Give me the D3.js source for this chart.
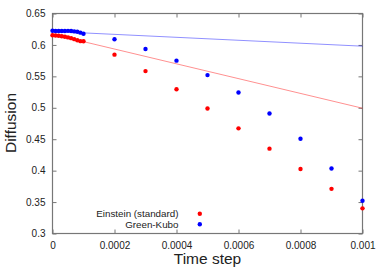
<!DOCTYPE html>
<html><head><meta charset="utf-8">
<script src="https://cdn.jsdelivr.net/npm/d3@7"></script>
<style>body{margin:0;background:#fff}svg{display:block}text{font-family:"Liberation Sans",Arial,sans-serif}</style>
</head><body><svg id="c" width="382" height="267"></svg>
<script>
const timeSteps = [0,0.00001,0.00002,0.00003,0.00004,0.00005,0.00006,0.00007,0.00008,0.00009,0.0001,0.0002,0.0003,0.0004,0.0005,0.0006,0.0007,0.0008,0.0009,0.001];
const einstein = [0.6155,0.615,0.6145,0.6138,0.613,0.612,0.6108,0.6092,0.6075,0.606,0.6058,0.5845,0.5584,0.5296,0.4988,0.4673,0.435,0.4025,0.371,0.340];
const greenKubo = [0.6225,0.6222,0.6222,0.6221,0.6222,0.6224,0.6222,0.6215,0.621,0.6195,0.6178,0.609,0.5935,0.575,0.552,0.5243,0.4908,0.4507,0.4035,0.352];
const einsteinFit = [[0,0.617],[0.001,0.4993]];
const greenKuboFit = [[0,0.6215],[0.001,0.598]];
const xTicks = [0,0.0002,0.0004,0.0006,0.0008,0.001];
const xTickLabels = ["0","0.0002","0.0004","0.0006","0.0008","0.001"];
const yTicks = [0.3,0.35,0.4,0.45,0.5,0.55,0.6,0.65];
const yTickLabels = ["0.3","0.35","0.4","0.45","0.5","0.55","0.6","0.65"];
const seriesNames = ["Einstein (standard)","Green-Kubo"];

const svg = d3.select("#c");
const L=52.5,R=362.5,T=13.5,B=233.5;
const x = d3.scaleLinear().domain([0,0.001]).range([L,R]);
const y = d3.scaleLinear().domain([0.3,0.65]).range([B,T]);
const axisCol="#777";

// ticks inward on all sides
const ax = (g)=>g.selectAll(".domain").remove();
svg.append("g").attr("transform",`translate(0,${B})`)
  .call(d3.axisBottom(x).tickValues(xTicks).tickSize(-4).tickPadding(8).tickFormat((d,i)=>xTickLabels[i]))
  .call(ax).call(g=>{g.selectAll("line").attr("stroke",axisCol);g.selectAll("text").attr("font-size","10px").attr("fill","#222").attr("font-family","Liberation Sans, Arial, sans-serif");});
svg.append("g").attr("transform",`translate(0,${T})`)
  .call(d3.axisTop(x).tickValues(xTicks).tickSize(-4).tickFormat(""))
  .call(ax).call(g=>g.selectAll("line").attr("stroke",axisCol));
svg.append("g").attr("transform",`translate(${L},0)`)
  .call(d3.axisLeft(y).tickValues(yTicks).tickSize(-4).tickPadding(7).tickFormat((d,i)=>yTickLabels[i]))
  .call(ax).call(g=>{g.selectAll("line").attr("stroke",axisCol);g.selectAll("text").attr("font-size","10px").attr("fill","#222").attr("font-family","Liberation Sans, Arial, sans-serif");});
svg.append("g").attr("transform",`translate(${R},0)`)
  .call(d3.axisRight(y).tickValues(yTicks).tickSize(-4).tickFormat(""))
  .call(ax).call(g=>g.selectAll("line").attr("stroke",axisCol));

svg.append("rect").attr("x",L).attr("y",T).attr("width",R-L).attr("height",B-T)
  .attr("fill","none").attr("stroke",axisCol).attr("stroke-width",1.2);

const line = d3.line().x(d=>x(d[0])).y(d=>y(d[1]));
svg.append("path").attr("d",line(greenKuboFit)).attr("stroke","#0000ff").attr("stroke-opacity",0.55).attr("stroke-width",0.8).attr("fill","none");
svg.append("path").attr("d",line(einsteinFit)).attr("stroke","#ff0000").attr("stroke-opacity",0.55).attr("stroke-width",0.8).attr("fill","none");

svg.append("g").selectAll("circle").data(timeSteps).join("circle")
  .attr("cx",d=>x(d)).attr("cy",(d,i)=>y(einstein[i])).attr("r",2.2).attr("fill","#ff0000");
svg.append("g").selectAll("circle").data(timeSteps).join("circle")
  .attr("cx",d=>x(d)).attr("cy",(d,i)=>y(greenKubo[i])).attr("r",2.2).attr("fill","#0000ff");

// legend
const legCols=["#ff0000","#0000ff"];
const leg = svg.append("g");
seriesNames.forEach((n,i)=>{
  const yy = 213.7 + i*10.6;
  leg.append("text").attr("x",178.5).attr("y",yy+3.5).attr("text-anchor","end").attr("font-size","9.8px").attr("fill","#222").text(n);
  leg.append("circle").attr("cx",199.8).attr("cy",yy).attr("r",2.2).attr("fill",legCols[i]);
});

svg.append("text").attr("x",(L+R)/2).attr("y",264).attr("text-anchor","middle").attr("font-size","15.5px").attr("fill","#222").text("Time step");
svg.append("text").attr("transform","translate(16,123) rotate(-90)").attr("text-anchor","middle").attr("font-size","15.5px").attr("fill","#222").text("Diffusion");
</script></body></html>
